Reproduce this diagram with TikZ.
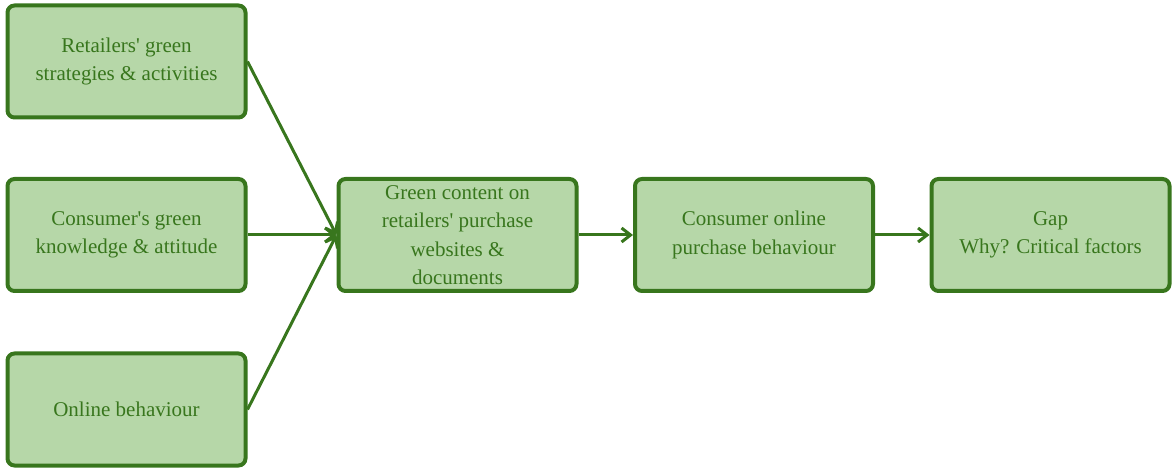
\documentclass[tikz,border=0pt]{standalone}
\usepackage{fontspec}
\setmainfont{Liberation Serif}
\usetikzlibrary{arrows.meta}
\definecolor{boxfill}{HTML}{B6D7A8}
\definecolor{boxline}{HTML}{38761D}
\newcommand{\apo}{\textquotesingle}
\tikzset{
  box/.style={draw=boxline, fill=boxfill, line width=4pt, rounded corners=7pt,
    minimum width=238pt, minimum height=112pt, align=center, text=boxline,
    font=\fontsize{21}{28.5}\selectfont, inner sep=0pt},
  conn/.style={draw=boxline, line width=3pt, -{Straight Barb[length=9pt,width=14pt,line width=3pt]}}
}
\begin{document}
\begin{tikzpicture}[x=1pt,y=-1pt]
\useasboundingbox (0,0) rectangle (1173,470);
\node[box] (a) at (126.5,61.5) {Retailers\apo{} green\\strategies \& activities};
\node[box] (b) at (126.5,235) {Consumer\apo{}s green\\knowledge \& attitude};
\node[box] (c) at (126.5,409.5) {Online behaviour};
\node[box] (d) at (457.5,235) {Green content on\\retailers\apo{} purchase\\websites \&\\documents};
\node[box] (e) at (754,235) {Consumer online\\purchase behaviour};
\node[box] (f) at (1050.5,235) {Gap\\Why? Critical factors};
\draw[conn] (a.east) -- (d.west);
\draw[conn] (b.east) -- (d.west);
\draw[conn] (c.east) -- (d.west);
\draw[conn] (d.east) -- (e.west);
\draw[conn] (e.east) -- (f.west);
\end{tikzpicture}
\end{document}
